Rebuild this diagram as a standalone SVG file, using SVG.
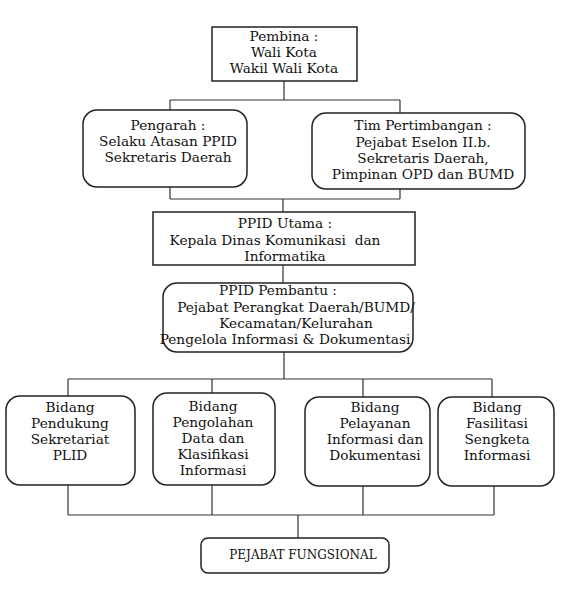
<svg xmlns="http://www.w3.org/2000/svg" width="570" height="600" viewBox="0 0 570 600">
<style>
.b{fill:#fff;stroke:#222;stroke-width:1.5}
.c{fill:none;stroke:#333;stroke-width:1.2}
text{font-family:"DejaVu Serif","Liberation Serif",serif;font-size:13.7px;fill:#111;text-anchor:middle}
</style>
<rect width="570" height="600" fill="#fff"/>
<g id="connectors">
<path class="c" d="M284,81V100M170,100H400M170,100V110M400,100V113"/>
<path class="c" d="M170,187V199M400,189V199M170,199H400M283,199V212"/>
<path class="c" d="M283,265V283"/>
<path class="c" d="M284,352V379M68,379H492M68,379V396M212,379V393M363,379V397M492,379V397"/>
<path class="c" d="M68,485V515M212,485V515M363,486V515M494,486V515M68,515H494M298,515V538"/>
</g>
<g id="pembina">
<rect class="b" x="212" y="27" width="145" height="54"/>
<text x="284" y="41">Pembina :</text>
<text x="284" y="57">Wali Kota</text>
<text x="284" y="73">Wakil Wali Kota</text>
</g>
<g id="pengarah">
<rect class="b" x="83" y="110" width="164" height="77" rx="14"/>
<text x="168" y="130">Pengarah :</text>
<text x="168" y="146">Selaku Atasan PPID</text>
<text x="168" y="162">Sekretaris Daerah</text>
</g>
<g id="tim">
<rect class="b" x="312" y="113" width="213" height="76" rx="14"/>
<text x="423" y="130">Tim Pertimbangan :</text>
<text x="423" y="147">Pejabat Eselon II.b.</text>
<text x="423" y="163">Sekretaris Daerah,</text>
<text x="423" y="179">Pimpinan OPD dan BUMD</text>
</g>
<g id="ppid-utama">
<rect class="b" x="153" y="212" width="262" height="53"/>
<text x="285" y="228">PPID Utama :</text>
<text x="275" y="245" xml:space="preserve">Kepala Dinas Komunikasi  dan</text>
<text x="285" y="261">Informatika</text>
</g>
<g id="ppid-pembantu">
<rect class="b" x="163" y="283" width="250" height="69" rx="14"/>
<text x="278" y="295">PPID Pembantu :</text>
<text x="296" y="312">Pejabat Perangkat Daerah/BUMD/</text>
<text x="296" y="328">Kecamatan/Kelurahan</text>
<text x="285" y="344">Pengelola Informasi &amp; Dokumentasi</text>
</g>
<g id="bidang1">
<rect class="b" x="6" y="396" width="129" height="89" rx="14"/>
<text x="70" y="412">Bidang</text>
<text x="70" y="428">Pendukung</text>
<text x="70" y="444">Sekretariat</text>
<text x="70" y="460">PLID</text>
</g>
<g id="bidang2">
<rect class="b" x="153" y="393" width="122" height="92" rx="14"/>
<text x="213" y="411">Bidang</text>
<text x="213" y="427">Pengolahan</text>
<text x="213" y="443">Data dan</text>
<text x="213" y="459">Klasifikasi</text>
<text x="213" y="475">Informasi</text>
</g>
<g id="bidang3">
<rect class="b" x="305" y="397" width="125" height="89" rx="14"/>
<text x="375" y="412">Bidang</text>
<text x="375" y="428">Pelayanan</text>
<text x="375" y="444">Informasi dan</text>
<text x="375" y="460">Dokumentasi</text>
</g>
<g id="bidang4">
<rect class="b" x="438" y="397" width="116" height="89" rx="14"/>
<text x="497" y="412">Bidang</text>
<text x="497" y="428">Fasilitasi</text>
<text x="497" y="444">Sengketa</text>
<text x="497" y="460">Informasi</text>
</g>
<g id="pejabat-fungsional">
<rect class="b" x="201" y="538" width="188" height="35" rx="7"/>
<text x="303" y="559" style="font-size:12px">PEJABAT FUNGSIONAL</text>
</g>
</svg>
